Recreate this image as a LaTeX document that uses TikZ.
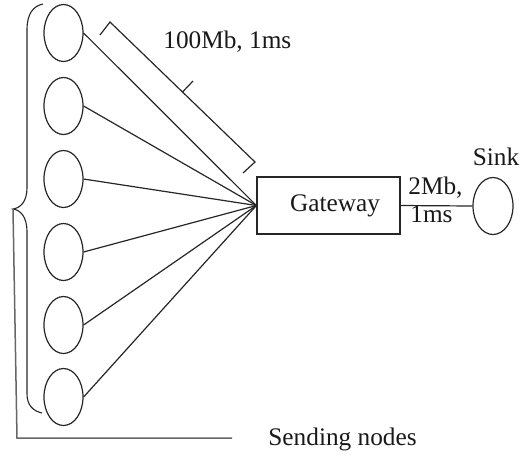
\documentclass[tikz,border=0pt]{standalone}
\usepackage{fontspec}
\setmainfont{Liberation Serif}
\usetikzlibrary{shapes.geometric}
\begin{document}
\begin{tikzpicture}[x=0.5pt, y=-0.5pt,
  every node/.style={font=\fontsize{12.65pt}{14pt}\selectfont, inner sep=0pt},
  host/.style={draw=black!85, line width=0.6pt, ellipse,
    minimum width=19.5pt, minimum height=28.5pt},
  link/.style={draw=black!85, line width=0.6pt},
  gbox/.style={draw=black!85, line width=0.6pt, rectangle,
    minimum width=71.5pt, minimum height=28.5pt},
  frame/.style={draw=black!60, line width=0.75pt},
  txt/.style={text=black!90}]
\useasboundingbox (0,0) rectangle (520,457);

% sending hosts
\foreach \i/\y in {1/33,2/106,3/179,4/252,5/325,6/397}
  \node[host] (n\i) at (63.5,\y) {};

% gateway and sink
\node[gbox] (gw) at (328.5,205.5) {};
\node[txt, anchor=base] (gwlabel) at (335,211) {Gateway};
\node[host, minimum width=20pt] (sink) at (493,206) {};
\node[txt, anchor=base] (sinklabel) at (496,165) {Sink};

% access links
\foreach \i in {1,...,6}
  \draw[link] (n\i.east) -- (gw.west);

% bottleneck link
\draw[link] (gw.east) -- (sink.west);
\node[txt, anchor=base west] (bl1) at (408,194) {2Mb,};
\node[txt, anchor=base west] (bl2) at (410,222) {1ms};

% bracket marking the access links
\coordinate (b1) at (110,22);
\coordinate (b2) at (255,162);
\coordinate (t1) at (100,35);
\coordinate (t2) at (243,173);
\coordinate (m1) at (182.5,92);
\coordinate (m2) at (193,81);
\draw[link] (t1) -- (b1) -- (b2) -- (t2);
\draw[link] (m1) -- (m2);
\node[txt, anchor=base west] (acc) at (163,48) {100Mb, 1ms};

% brace grouping the hosts
\coordinate (tip) at (13,209);
\draw[link, line width=0.55pt]
  (43,4) .. controls (33,6) and (27,14) .. (27,30) -- (27,188)
  .. controls (27,202) and (20,208) .. (tip)
  .. controls (20,210) and (27,216) .. (27,232) -- (27,394)
  .. controls (27,405) and (33,411) .. (42,413);

% baseline frame
\coordinate (corner) at (17,438);
\coordinate (fend) at (232,438);
\draw[frame] (tip) -- (corner) -- (fend);
\node[txt, anchor=base west] (snd) at (268,445) {Sending nodes};
\end{tikzpicture}
\end{document}
